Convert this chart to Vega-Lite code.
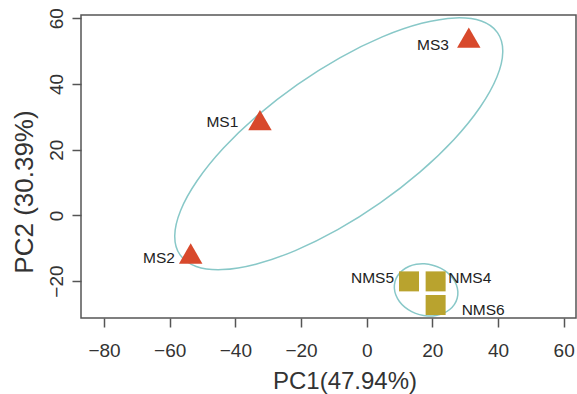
{
  "$schema": "https://vega.github.io/schema/vega-lite/v6.json",
  "width": 495,
  "height": 303,
  "autosize": {"type": "none"},
  "padding": {"left": 81, "top": 15, "right": 1, "bottom": 76},
  "background": "white",
  "config": {
    "font": "Liberation Sans",
    "view": {"stroke": "#555", "strokeWidth": 1.5},
    "axis": {"domain": false, "grid": false, "tickColor": "#555", "tickWidth": 1.5, "tickSize": 9, "labelColor": "#333", "titleColor": "#333", "titleFontWeight": "normal", "labelFontSize": 19, "labelFlush": false, "labelOverlap": false, "font": "Liberation Sans"},
    "axisX": {"labelPadding": 29, "labelBaseline": "alphabetic", "titleFontSize": 24, "titleX": 263.5, "titleY": 70, "titleBaseline": "alphabetic", "titleAlign": "center"},
    "axisY": {"labelAngle": 270, "labelAlign": "center", "labelBaseline": "alphabetic", "labelPadding": 10, "titleFontSize": 26, "titleX": -48.5, "titleY": 176.5, "titleAngle": 270, "titleAlign": "center", "titleBaseline": "alphabetic"}
  },
  "datasets": {
    "pts": [
      {"name": "MS1", "g": "MS", "x": -32.5, "y": 29.0},
      {"name": "MS2", "g": "MS", "x": -53.6, "y": -11.6},
      {"name": "MS3", "g": "MS", "x": 31.1, "y": 54.1},
      {"name": "NMS4", "g": "NMS", "x": 21.0, "y": -20.1},
      {"name": "NMS5", "g": "NMS", "x": 12.9, "y": -20.1},
      {"name": "NMS6", "g": "NMS", "x": 21.0, "y": -27.3}
    ],
    "ell": [
      {"g": "MS", "i": 0, "x": 39.83, "y": 55.64},
      {"g": "MS", "i": 1, "x": 34.91, "y": 59.15},
      {"g": "MS", "i": 2, "x": 27.04, "y": 60.12},
      {"g": "MS", "i": 3, "x": 16.75, "y": 58.47},
      {"g": "MS", "i": 4, "x": 4.74, "y": 54.33},
      {"g": "MS", "i": 5, "x": -8.18, "y": 47.97},
      {"g": "MS", "i": 6, "x": -21.12, "y": 39.82},
      {"g": "MS", "i": 7, "x": -33.2, "y": 30.45},
      {"g": "MS", "i": 8, "x": -43.6, "y": 20.49},
      {"g": "MS", "i": 9, "x": -51.59, "y": 10.61},
      {"g": "MS", "i": 10, "x": -56.66, "y": 1.5},
      {"g": "MS", "i": 11, "x": -58.45, "y": -6.23},
      {"g": "MS", "i": 12, "x": -56.83, "y": -12.04},
      {"g": "MS", "i": 13, "x": -51.91, "y": -15.55},
      {"g": "MS", "i": 14, "x": -44.04, "y": -16.52},
      {"g": "MS", "i": 15, "x": -33.75, "y": -14.87},
      {"g": "MS", "i": 16, "x": -21.74, "y": -10.73},
      {"g": "MS", "i": 17, "x": -8.82, "y": -4.37},
      {"g": "MS", "i": 18, "x": 4.12, "y": 3.78},
      {"g": "MS", "i": 19, "x": 16.2, "y": 13.15},
      {"g": "MS", "i": 20, "x": 26.6, "y": 23.11},
      {"g": "MS", "i": 21, "x": 34.59, "y": 32.99},
      {"g": "MS", "i": 22, "x": 39.66, "y": 42.1},
      {"g": "MS", "i": 23, "x": 41.45, "y": 49.83},
      {"g": "NMS", "i": 0, "x": 27.57, "y": -25.24},
      {"g": "NMS", "i": 1, "x": 27.77, "y": -23.2},
      {"g": "NMS", "i": 2, "x": 27.31, "y": -21.13},
      {"g": "NMS", "i": 3, "x": 26.23, "y": -19.18},
      {"g": "NMS", "i": 4, "x": 24.59, "y": -17.45},
      {"g": "NMS", "i": 5, "x": 22.5, "y": -16.09},
      {"g": "NMS", "i": 6, "x": 20.12, "y": -15.17},
      {"g": "NMS", "i": 7, "x": 17.6, "y": -14.77},
      {"g": "NMS", "i": 8, "x": 15.11, "y": -14.91},
      {"g": "NMS", "i": 9, "x": 12.83, "y": -15.58},
      {"g": "NMS", "i": 10, "x": 10.91, "y": -16.73},
      {"g": "NMS", "i": 11, "x": 9.47, "y": -18.3},
      {"g": "NMS", "i": 12, "x": 8.63, "y": -20.16},
      {"g": "NMS", "i": 13, "x": 8.43, "y": -22.2},
      {"g": "NMS", "i": 14, "x": 8.89, "y": -24.27},
      {"g": "NMS", "i": 15, "x": 9.97, "y": -26.22},
      {"g": "NMS", "i": 16, "x": 11.61, "y": -27.95},
      {"g": "NMS", "i": 17, "x": 13.7, "y": -29.31},
      {"g": "NMS", "i": 18, "x": 16.08, "y": -30.23},
      {"g": "NMS", "i": 19, "x": 18.6, "y": -30.63},
      {"g": "NMS", "i": 20, "x": 21.09, "y": -30.49},
      {"g": "NMS", "i": 21, "x": 23.37, "y": -29.82},
      {"g": "NMS", "i": 22, "x": 25.29, "y": -28.67},
      {"g": "NMS", "i": 23, "x": 26.73, "y": -27.1}
    ]
  },
  "layer": [
    {
      "mark": {"type": "rule", "stroke": "#9a9a9a", "strokeWidth": 1, "strokeDash": [1.5, 2]},
      "encoding": {
        "x": {"datum": 0, "type": "quantitative", "scale": {"domain": [-87, 63.75], "nice": false, "zero": false}, "axis": {"title": "PC1(47.94%)", "values": [-80, -60, -40, -20, 0, 20, 40, 60]}}
      }
    },
    {
      "mark": {"type": "rule", "stroke": "#9a9a9a", "strokeWidth": 1, "strokeDash": [1.5, 2]},
      "encoding": {
        "y": {"datum": 0, "type": "quantitative", "scale": {"domain": [-31.25, 61], "nice": false, "zero": false}, "axis": {"title": "PC2 (30.39%)", "values": [-20, 0, 20, 40, 60]}}
      }
    },
    {
      "data": {"name": "ell"},
      "mark": {"type": "line", "interpolate": "cardinal-closed", "stroke": "#88c8c8", "strokeWidth": 1.5},
      "encoding": {
        "x": {"field": "x", "type": "quantitative", "scale": {"domain": [-87, 63.75], "nice": false, "zero": false}, "axis": {"title": "PC1(47.94%)", "values": [-80, -60, -40, -20, 0, 20, 40, 60]}},
        "y": {"field": "y", "type": "quantitative", "scale": {"domain": [-31.25, 61], "nice": false, "zero": false}, "axis": {"title": "PC2 (30.39%)", "values": [-20, 0, 20, 40, 60]}},
        "detail": {"field": "g"},
        "order": {"field": "i", "type": "quantitative"}
      }
    },
    {
      "data": {"name": "pts"},
      "transform": [{"filter": "datum.g === 'MS'"}],
      "mark": {"type": "point", "shape": "triangle-up", "filled": true, "size": 552, "color": "#d8492c", "opacity": 1},
      "encoding": {
        "x": {"field": "x", "type": "quantitative", "scale": {"domain": [-87, 63.75], "nice": false, "zero": false}, "axis": {"title": "PC1(47.94%)", "values": [-80, -60, -40, -20, 0, 20, 40, 60]}},
        "y": {"field": "y", "type": "quantitative", "scale": {"domain": [-31.25, 61], "nice": false, "zero": false}, "axis": {"title": "PC2 (30.39%)", "values": [-20, 0, 20, 40, 60]}}
      }
    },
    {
      "data": {"name": "pts"},
      "transform": [{"filter": "datum.g === 'NMS'"}],
      "mark": {"type": "point", "shape": "square", "filled": true, "size": 400, "color": "#b9a32e", "opacity": 1},
      "encoding": {
        "x": {"field": "x", "type": "quantitative", "scale": {"domain": [-87, 63.75], "nice": false, "zero": false}, "axis": {"title": "PC1(47.94%)", "values": [-80, -60, -40, -20, 0, 20, 40, 60]}},
        "y": {"field": "y", "type": "quantitative", "scale": {"domain": [-31.25, 61], "nice": false, "zero": false}, "axis": {"title": "PC2 (30.39%)", "values": [-20, 0, 20, 40, 60]}}
      }
    },
    {
      "data": {"name": "pts"},
      "transform": [{"filter": "datum.name === 'MS1'"}],
      "mark": {"type": "text", "align": "right", "baseline": "middle", "dx": -21.7, "dy": 2, "fontSize": 15.5, "color": "#222"},
      "encoding": {
        "x": {"field": "x", "type": "quantitative"},
        "y": {"field": "y", "type": "quantitative"},
        "text": {"field": "name"}
      }
    },
    {
      "data": {"name": "pts"},
      "transform": [{"filter": "datum.name === 'MS2'"}],
      "mark": {"type": "text", "align": "right", "baseline": "middle", "dx": -15.8, "dy": 4.4, "fontSize": 15.5, "color": "#222"},
      "encoding": {
        "x": {"field": "x", "type": "quantitative"},
        "y": {"field": "y", "type": "quantitative"},
        "text": {"field": "name"}
      }
    },
    {
      "data": {"name": "pts"},
      "transform": [{"filter": "datum.name === 'MS3'"}],
      "mark": {"type": "text", "align": "right", "baseline": "middle", "dx": -19.8, "dy": 7.7, "fontSize": 15.5, "color": "#222"},
      "encoding": {
        "x": {"field": "x", "type": "quantitative"},
        "y": {"field": "y", "type": "quantitative"},
        "text": {"field": "name"}
      }
    },
    {
      "data": {"name": "pts"},
      "transform": [{"filter": "datum.name === 'NMS5'"}],
      "mark": {"type": "text", "align": "right", "baseline": "middle", "dx": -15, "dy": -3.1, "fontSize": 15.5, "color": "#222"},
      "encoding": {
        "x": {"field": "x", "type": "quantitative"},
        "y": {"field": "y", "type": "quantitative"},
        "text": {"field": "name"}
      }
    },
    {
      "data": {"name": "pts"},
      "transform": [{"filter": "datum.name === 'NMS4'"}],
      "mark": {"type": "text", "align": "left", "baseline": "middle", "dx": 12.6, "dy": -3.1, "fontSize": 15.5, "color": "#222"},
      "encoding": {
        "x": {"field": "x", "type": "quantitative"},
        "y": {"field": "y", "type": "quantitative"},
        "text": {"field": "name"}
      }
    },
    {
      "data": {"name": "pts"},
      "transform": [{"filter": "datum.name === 'NMS6'"}],
      "mark": {"type": "text", "align": "left", "baseline": "middle", "dx": 26, "dy": 5.2, "fontSize": 15.5, "color": "#222"},
      "encoding": {
        "x": {"field": "x", "type": "quantitative"},
        "y": {"field": "y", "type": "quantitative"},
        "text": {"field": "name"}
      }
    }
  ]
}
